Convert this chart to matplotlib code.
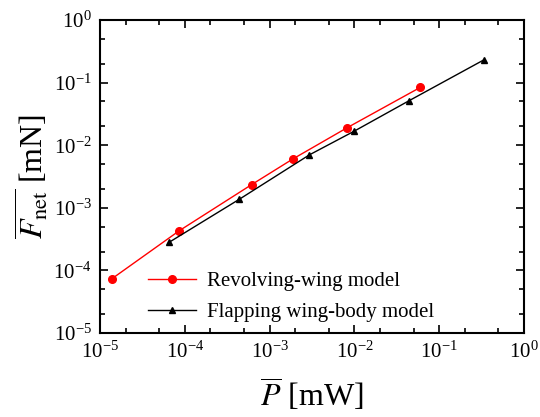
import matplotlib
matplotlib.use("Agg")
import matplotlib.pyplot as plt
from matplotlib.ticker import LogLocator

# Revolving-wing model (red circles)
rev_power = [1.39e-5, 8.6e-5, 6.15e-4, 1.87e-3, 8.2e-3, 6.0e-2]
rev_force = [7.4e-5, 4.3e-4, 2.35e-3, 6.0e-3, 1.9e-2, 8.4e-2]

# Flapping wing-body model (black triangles)
flap_power = [6.5e-5, 4.4e-4, 2.94e-3, 9.9e-3, 4.37e-2, 0.335]
flap_force = [2.8e-4, 1.37e-3, 7.0e-3, 1.67e-2, 5.1e-2, 0.23]

labels = ["Revolving-wing model", "Flapping wing-body model"]

plt.rcParams['font.family'] = ['Liberation Serif', 'DejaVu Serif']
plt.rcParams['mathtext.fontset'] = 'stix'

fig = plt.figure(figsize=(5.4, 4.17), dpi=100)
ax = fig.add_axes([100 / 540, 1 - 333 / 417, 424 / 540, 313 / 417])

ax.plot(rev_power, rev_force, color='red', marker='o', markersize=5.5,
        linewidth=1.0, label=labels[0])
ax.plot(flap_power, flap_force, color='black', marker='^', markersize=4.5,
        linewidth=1.0, label=labels[1])

ax.set_xscale('log')
ax.set_yscale('log')
ax.set_xlim(1e-5, 1)
ax.set_ylim(1e-5, 1)

for a in (ax.xaxis, ax.yaxis):
    a.set_major_locator(LogLocator(base=10, numticks=10))
    a.set_minor_locator(LogLocator(base=10, subs=(2, 5), numticks=10))

ax.tick_params(which='both', direction='in', top=True, right=True,
               labelsize=15, width=1.2)
ax.tick_params(which='major', length=6, pad=6)
ax.tick_params(which='minor', length=3.5)
for s in ax.spines.values():
    s.set_linewidth(1.5)

ax.set_xlabel(r'$\overline{P}$ [mW]', fontsize=23, labelpad=10)
ax.set_ylabel(r'$\overline{F_{\mathrm{net}}}$ [mN]', fontsize=23, labelpad=2)

ax.legend(loc='lower left', bbox_to_anchor=(0.07, -0.025), frameon=False,
          fontsize=15, handlelength=2.3, handletextpad=0.5,
          labelspacing=0.55)

fig.savefig('out.png', dpi=100)
